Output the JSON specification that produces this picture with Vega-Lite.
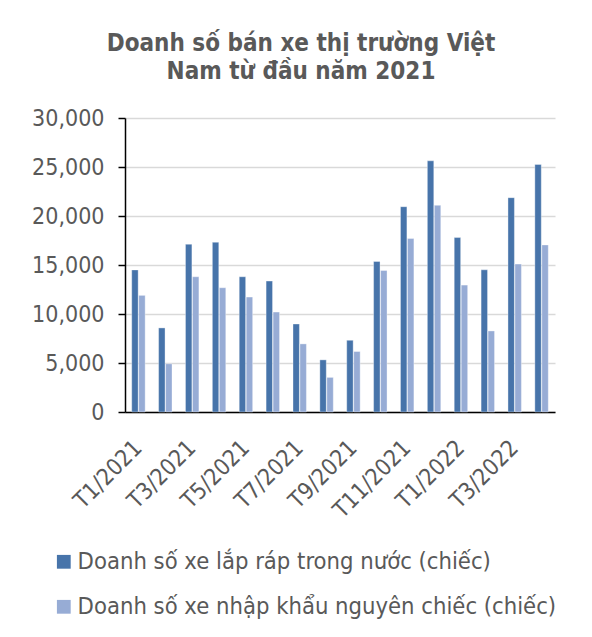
{
  "$schema": "https://vega.github.io/schema/vega-lite/v6.json",
  "autosize": "none",
  "width": 430,
  "height": 294,
  "padding": {"left": 125, "top": 118, "right": 37, "bottom": 225},
  "background": "white",
  "title": {
    "text": ["Doanh số bán xe thị trường Việt", "Nam từ đầu năm 2021"],
    "fontSize": 24,
    "fontWeight": "bold",
    "color": "#595959",
    "font": "DejaVu Sans Condensed",
    "anchor": "middle",
    "dx": -39,
    "offset": 23,
    "lineHeight": 28
  },
  "data": {
    "values": [
      {"thang": "T1/2021", "loai": "Doanh số xe lắp ráp trong nước (chiếc)", "v": 14500},
      {"thang": "T1/2021", "loai": "Doanh số xe nhập khẩu nguyên chiếc (chiếc)", "v": 11900},
      {"thang": "T2/2021", "loai": "Doanh số xe lắp ráp trong nước (chiếc)", "v": 8580},
      {"thang": "T2/2021", "loai": "Doanh số xe nhập khẩu nguyên chiếc (chiếc)", "v": 4920},
      {"thang": "T3/2021", "loai": "Doanh số xe lắp ráp trong nước (chiếc)", "v": 17120},
      {"thang": "T3/2021", "loai": "Doanh số xe nhập khẩu nguyên chiếc (chiếc)", "v": 13800},
      {"thang": "T4/2021", "loai": "Doanh số xe lắp ráp trong nước (chiếc)", "v": 17320},
      {"thang": "T4/2021", "loai": "Doanh số xe nhập khẩu nguyên chiếc (chiếc)", "v": 12680},
      {"thang": "T5/2021", "loai": "Doanh số xe lắp ráp trong nước (chiếc)", "v": 13800},
      {"thang": "T5/2021", "loai": "Doanh số xe nhập khẩu nguyên chiếc (chiếc)", "v": 11730},
      {"thang": "T6/2021", "loai": "Doanh số xe lắp ráp trong nước (chiếc)", "v": 13360},
      {"thang": "T6/2021", "loai": "Doanh số xe nhập khẩu nguyên chiếc (chiếc)", "v": 10200},
      {"thang": "T7/2021", "loai": "Doanh số xe lắp ráp trong nước (chiếc)", "v": 8980},
      {"thang": "T7/2021", "loai": "Doanh số xe nhập khẩu nguyên chiếc (chiếc)", "v": 6950},
      {"thang": "T8/2021", "loai": "Doanh số xe lắp ráp trong nước (chiếc)", "v": 5320},
      {"thang": "T8/2021", "loai": "Doanh số xe nhập khẩu nguyên chiếc (chiếc)", "v": 3530},
      {"thang": "T9/2021", "loai": "Doanh số xe lắp ráp trong nước (chiếc)", "v": 7320},
      {"thang": "T9/2021", "loai": "Doanh số xe nhập khẩu nguyên chiếc (chiếc)", "v": 6170},
      {"thang": "T10/2021", "loai": "Doanh số xe lắp ráp trong nước (chiếc)", "v": 15360},
      {"thang": "T10/2021", "loai": "Doanh số xe nhập khẩu nguyên chiếc (chiếc)", "v": 14440},
      {"thang": "T11/2021", "loai": "Doanh số xe lắp ráp trong nước (chiếc)", "v": 20950},
      {"thang": "T11/2021", "loai": "Doanh số xe nhập khẩu nguyên chiếc (chiếc)", "v": 17700},
      {"thang": "T12/2021", "loai": "Doanh số xe lắp ráp trong nước (chiếc)", "v": 25630},
      {"thang": "T12/2021", "loai": "Doanh số xe nhập khẩu nguyên chiếc (chiếc)", "v": 21090},
      {"thang": "T1/2022", "loai": "Doanh số xe lắp ráp trong nước (chiếc)", "v": 17800},
      {"thang": "T1/2022", "loai": "Doanh số xe nhập khẩu nguyên chiếc (chiếc)", "v": 12950},
      {"thang": "T2/2022", "loai": "Doanh số xe lắp ráp trong nước (chiếc)", "v": 14510},
      {"thang": "T2/2022", "loai": "Doanh số xe nhập khẩu nguyên chiếc (chiếc)", "v": 8270},
      {"thang": "T3/2022", "loai": "Doanh số xe lắp ráp trong nước (chiếc)", "v": 21870},
      {"thang": "T3/2022", "loai": "Doanh số xe nhập khẩu nguyên chiếc (chiếc)", "v": 15090},
      {"thang": "T4/2022", "loai": "Doanh số xe lắp ráp trong nước (chiếc)", "v": 25260},
      {"thang": "T4/2022", "loai": "Doanh số xe nhập khẩu nguyên chiếc (chiếc)", "v": 17050}
    ]
  },
  "mark": {"type": "bar", "stroke": "white", "strokeWidth": 0.6, "strokeOpacity": 0.6},
  "encoding": {
    "x": {
      "field": "thang",
      "type": "nominal",
      "sort": null,
      "title": null,
      "scale": {"paddingInner": 0.5, "paddingOuter": 0.25},
      "axis": {
        "values": ["T1/2021", "T3/2021", "T5/2021", "T7/2021", "T9/2021", "T11/2021", "T1/2022", "T3/2022"],
        "labelAngle": -45,
        "labelAlign": "right",
        "labelBaseline": "middle",
        "labelFont": "DejaVu Sans Condensed",
        "labelFontSize": 23,
        "labelColor": "#595959",
        "labelPadding": 32,
        "ticks": false,
        "domainColor": "#000000",
        "domainWidth": 1.5,
        "grid": false
      }
    },
    "xOffset": {
      "field": "loai",
      "type": "nominal",
      "scale": {"paddingInner": 0.08}
    },
    "y": {
      "field": "v",
      "type": "quantitative",
      "title": null,
      "scale": {"domain": [0, 30000], "nice": false},
      "axis": {
        "values": [0, 5000, 10000, 15000, 20000, 25000, 30000],
        "format": ",.0f",
        "labelFont": "DejaVu Sans Condensed",
        "labelFontSize": 23,
        "labelColor": "#595959",
        "labelPadding": 14,
        "tickColor": "#000000",
        "tickSize": 7,
        "tickWidth": 1.5,
        "domainColor": "#000000",
        "domainWidth": 1.5,
        "gridColor": "#d9d9d9",
        "gridWidth": 1.5
      }
    },
    "color": {
      "field": "loai",
      "type": "nominal",
      "title": null,
      "scale": {
        "domain": ["Doanh số xe lắp ráp trong nước (chiếc)", "Doanh số xe nhập khẩu nguyên chiếc (chiếc)"],
        "range": ["#4774AA", "#97ACD5"]
      },
      "legend": {
        "orient": "none",
        "legendX": -73,
        "legendY": 432,
        "direction": "vertical",
        "symbolType": "square",
        "symbolSize": 190,
        "symbolStrokeWidth": 0,
        "labelFont": "DejaVu Sans Condensed",
        "labelFontSize": 23.6,
        "labelColor": "#595959",
        "labelOffset": 2,
        "rowPadding": 20,
        "labelLimit": 600
      }
    }
  },
  "config": {"view": {"stroke": null}}
}
